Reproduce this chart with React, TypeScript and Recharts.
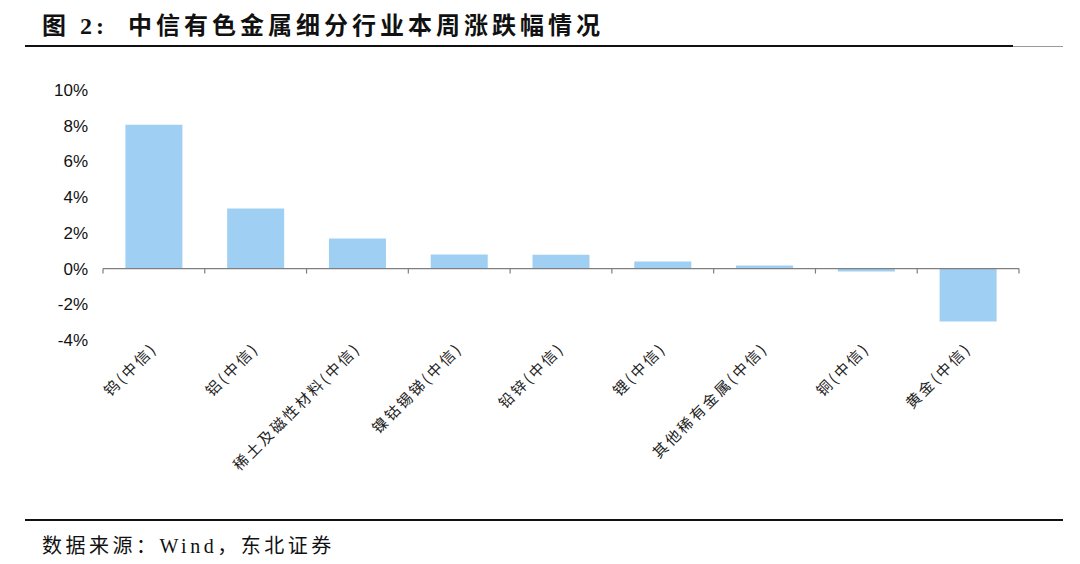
import React from 'react';
import { BarChart, Bar, XAxis, YAxis, ReferenceLine } from 'recharts';

const categories = [
  '钨(中信)',
  '铝(中信)',
  '稀土及磁性材料(中信)',
  '镍钴锡锑(中信)',
  '铅锌(中信)',
  '锂(中信)',
  '其他稀有金属(中信)',
  '铜(中信)',
  '黄金(中信)',
];
const weeklyChange = [8.05, 3.36, 1.68, 0.79, 0.78, 0.39, 0.17, -0.17, -2.97];
const yTicks = [-4, -2, 0, 2, 4, 6, 8, 10];

const data = categories.map((name, i) => ({ name, value: weeklyChange[i] }));

const serif = '"Liberation Serif", "Noto Sans CJK SC", serif';

// x轴标签：斜 45 度
const SlantTick = ({ x, y, payload }: any) => (
  <g transform={`translate(${x},${y})`}>
    <text
      transform="rotate(-45)"
      textAnchor="end"
      dy={4}
      dx={2}
      fontSize={15}
      letterSpacing={2.5}
      fill="#222"
      fontFamily='"Noto Sans CJK SC", sans-serif'
    >
      {payload.value}
    </text>
  </g>
);

// 0 轴线，分类边界处向下的刻度
const ZeroAxis = (props: any) => {
  const { x1, x2, y1 } = props;
  if (x1 == null || x2 == null || y1 == null) return <g />;
  const step = (x2 - x1) / categories.length;
  const marks = Array.from({ length: categories.length + 1 }, (_, i) => x1 + i * step);
  return (
    <g>
      <line x1={x1} x2={x2} y1={y1} y2={y1} stroke="#7f7f7f" strokeWidth={1.2} />
      {marks.map((mx, i) => (
        <line key={i} x1={mx} x2={mx} y1={y1} y2={y1 + 5} stroke="#7f7f7f" strokeWidth={1.2} />
      ))}
    </g>
  );
};

export default function App() {
  return (
    <div style={{ position: 'absolute', left: 0, top: 0, width: 1080, height: 564, background: '#fff' }}>
      <div
        style={{
          position: 'absolute',
          left: 42,
          top: 6,
          fontFamily: serif,
          fontWeight: 'bold',
          fontSize: 24,
          letterSpacing: 4,
          color: '#111',
          whiteSpace: 'nowrap',
        }}
      >
        图&nbsp;2:&nbsp;&nbsp;中信有色金属细分行业本周涨跌幅情况
      </div>
      <div style={{ position: 'absolute', left: 25, top: 45, width: 988, height: 2, background: '#111' }} />
      <div style={{ position: 'absolute', left: 1013, top: 46, width: 50, height: 1, background: '#999' }} />

      <BarChart
        width={1080}
        height={564}
        data={data}
        margin={{ top: 90, right: 61, left: 43, bottom: 104 }}
        barCategoryGap="22%"
      >
        <XAxis
          dataKey="name"
          axisLine={false}
          tickLine={false}
          tickSize={0}
          tickMargin={8}
          height={120}
          interval={0}
          tick={<SlantTick />}
        />
        <YAxis
          domain={[-4, 10]}
          ticks={yTicks}
          interval={0}
          axisLine={false}
          tickLine={false}
          tickSize={0}
          tickMargin={15}
          width={60}
          tickFormatter={(v: number) => `${v}%`}
          tick={{ fill: '#111', fontSize: 17, fontFamily: '"Liberation Sans", Arial, sans-serif' }}
        />
        <Bar dataKey="value" fill="#9fcff3" isAnimationActive={false} />
        <ReferenceLine y={0} shape={<ZeroAxis />} />
      </BarChart>

      <div style={{ position: 'absolute', left: 25, top: 519, width: 1038, height: 2, background: '#111' }} />
      <div
        style={{
          position: 'absolute',
          left: 42,
          top: 530,
          fontFamily: serif,
          fontSize: 20,
          letterSpacing: 3.5,
          color: '#111',
          whiteSpace: 'nowrap',
        }}
      >
        数据来源：Wind，东北证券
      </div>
    </div>
  );
}
